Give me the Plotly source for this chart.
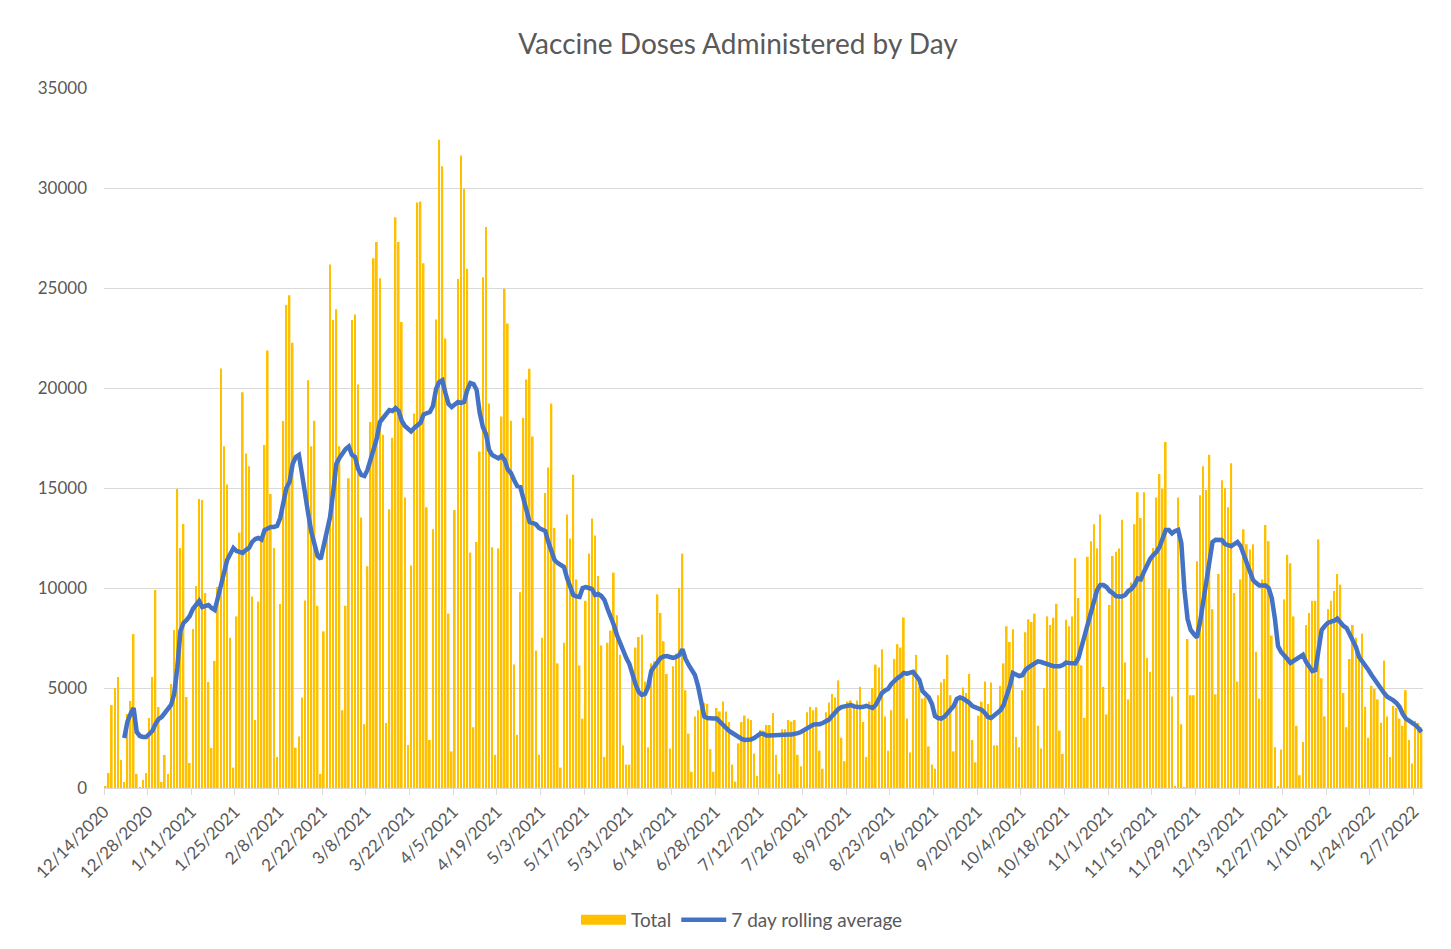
import pandas as pd
import plotly.graph_objects as go

START_DATE = "2020-12-14"

# Daily doses ("Total"), one row per week starting Monday 12/14/2020
total = [
    100, 750, 4150, 5000, 5550, 1400, 300,
    3700, 4350, 7700, 700, 50, 400, 750,
    3500, 5550, 9900, 4050, 300, 1650, 700,
    5200, 7900, 14950, 12000, 13200, 4550, 1250,
    7950, 10100, 14450, 14400, 9750, 5300, 2000,
    6350, 10050, 20980, 17090, 15170, 7510, 1020,
    8580, 12770, 19790, 16730, 16090, 9580, 3400,
    9320, 12500, 17150, 21880, 14700, 12000, 1550,
    9200, 18350, 24150, 24640, 22260, 2020, 2570,
    4530, 9380, 20390, 17090, 18360, 9110, 700,
    7830, 13150, 26170, 23400, 23940, 17090, 3890,
    9110, 15490, 23400, 23680, 20170, 13530, 3190,
    11090, 18300, 26490, 27300, 25490, 17660, 3250,
    13940, 17510, 28540, 27300, 23300, 14530, 2150,
    11130, 18730, 29280, 29320, 26240, 14040, 2400,
    12940, 23430, 32410, 31090, 22470, 8720, 1830,
    13900, 25450, 31620, 29960, 25960, 11770, 3040,
    12300, 16830, 25540, 28050, 19220, 12040, 1660,
    11980, 18580, 24960, 23220, 18360, 6170, 2660,
    9790, 18500, 20430, 20960, 17580, 6870, 1660,
    7510, 14750, 16020, 19220, 13000, 6230, 1020,
    7260, 13680, 12470, 15660, 10430, 6130, 3470,
    9360, 11720, 13470, 12620, 10600, 7130, 1550,
    7260, 7870, 10770, 8640, 6660, 2130, 1170,
    1170, 5810, 7020, 7550, 7660, 5320, 2020,
    6230, 6340, 9680, 8750, 7340, 5700, 1980,
    6090, 6720, 10000, 11720, 4890, 2720, 810,
    3580, 3890, 4680, 4260, 4210, 1940, 810,
    4000, 3830, 4320, 3830, 3300, 1170, 320,
    2230, 3300, 3620, 3470, 3400, 1720, 600,
    2900, 2870, 3150, 3150, 3750, 1660, 700,
    2940, 2940, 3400, 3320, 3400, 1660, 1090,
    2980, 3790, 4060, 3890, 4040, 1870, 960,
    3790, 4280, 4700, 4530, 5380, 2510, 1340,
    4320, 4380, 4210, 4380, 5060, 3300, 1550,
    4320, 5000, 6170, 6020, 6940, 3580, 1870,
    3890, 6450, 7190, 7020, 8530, 3470, 1770,
    5800, 6660, 5060, 4470, 4530, 2080, 1170,
    960, 4640, 5280, 5450, 6660, 4640, 1830,
    4320, 4640, 5020, 4750, 5700, 2400, 1280,
    3620, 4320, 5320, 4200, 5280, 2130, 2130,
    5110, 6230, 8090, 7300, 7940, 2550, 2040,
    4890, 7790, 8430, 8300, 8720, 3110, 1980,
    5000, 8580, 8150, 8510, 9210, 2870, 1700,
    8410, 8090, 8580, 11490, 9500, 6130, 3510,
    11560, 12340, 13190, 11980, 13680, 5060, 3680,
    9150, 11600, 11810, 11980, 13410, 6280, 4430,
    10280, 13190, 14790, 13500, 14790, 6500, 5810,
    12000, 14530, 15700, 14960, 17300, 9960, 4580,
    100, 14530, 3190, 50, 7450, 4640, 4640,
    11340, 14640, 16090, 14900, 16660, 8940, 4680,
    10700, 15390, 15000, 14040, 16240, 9750, 5320,
    10430, 12940, 12190, 11920, 12190, 6810, 4470,
    10430, 13150, 12340, 7620, 2040, 100, 1920,
    9430, 11660, 11240, 8580, 3110, 640, 2300,
    8150, 8750, 9360, 9360, 12430, 5490, 3580,
    8940, 9360, 9850, 10700, 10170, 4750, 3040,
    6450, 8150, 7510, 6660, 7720, 4060, 2510,
    5110, 4960, 4430, 3260, 6380, 3580, 1550,
    4110, 4000, 3470, 3110, 4890, 2400, 1230,
    3360, 3260, 3040,
]

# 7 day rolling average (first value on 12/20/2020)
rolling = [None] * 6 + [
    2500,
    3300, 3700, 4000, 2800, 2600, 2550, 2550,
    2700, 2850, 3200, 3450, 3550, 3750, 3950,
    4150, 4700, 6000, 7850, 8250, 8400, 8600,
    8950, 9200, 9350, 9050, 9100, 9150, 9000,
    8900, 9500, 10200, 10700, 11400, 11700, 12000,
    11850, 11800, 11750, 11900, 12000, 12300, 12450,
    12500, 12420, 12900, 13000, 13050, 13050, 13100,
    13500, 14300, 15000, 15300, 16200, 16550, 16650,
    15700, 14500, 13700, 12800, 12200, 11600, 11450,
    12100, 12900, 13550, 14800, 16200, 16500, 16750,
    16950, 17080, 16660, 16560, 15950, 15650, 15600,
    15900, 16350, 16950, 17500, 18300, 18500, 18700,
    18900, 18850, 19000, 18850, 18350, 18100, 17950,
    17830, 18000, 18150, 18260, 18680, 18750, 18800,
    19100, 19950, 20300, 20390, 19750, 19200, 19050,
    19200, 19300, 19250, 19300, 19900, 20250, 20200,
    19900, 18750, 18050, 17700, 16900, 16650, 16550,
    16480, 16600, 16400, 15920, 15750, 15400, 15100,
    15050, 14450, 13700, 13300, 13250, 13190, 13000,
    12950, 12850, 12300, 11900, 11400, 11250, 11150,
    11050, 10500, 10100, 9650, 9580, 9550, 10000,
    10050, 10000, 9950, 9650, 9700, 9600, 9400,
    8950, 8580, 8150, 7650, 7250, 6800, 6500,
    6200, 5650, 5170, 4800, 4650, 4700, 5050,
    5850, 6100, 6350, 6500, 6580, 6600, 6550,
    6500, 6550, 6650, 6940, 6450, 6150, 5900,
    5650, 5100, 4400, 3580, 3500, 3470, 3470,
    3470, 3300, 3150, 2980, 2850, 2750, 2650,
    2520, 2450, 2400, 2400, 2420, 2500, 2620,
    2720, 2700, 2620, 2620, 2620, 2620, 2620,
    2640, 2660, 2670, 2680, 2700, 2740, 2800,
    2900, 3000, 3100, 3170, 3190, 3190, 3250,
    3320, 3420, 3600, 3780, 3950, 4050, 4100,
    4130, 4150, 4080, 4040, 4040, 4060, 4110,
    4050, 4000, 4150, 4450, 4750, 4880, 4960,
    5200, 5380, 5500, 5600, 5750, 5720, 5750,
    5810, 5600, 5400, 4850, 4650, 4530, 4210,
    3600, 3500, 3470, 3560, 3750, 3960, 4100,
    4450, 4530, 4470, 4380, 4260, 4100, 4020,
    3960, 3900, 3750, 3550, 3500, 3650, 3750,
    3890, 4150, 4600, 5100, 5750, 5650, 5600,
    5640, 5900, 6030, 6120, 6220, 6330, 6300,
    6240, 6180, 6100, 6090, 6090, 6090, 6150,
    6270, 6250, 6230, 6230, 6500, 7100, 7600,
    8100, 8700, 9500, 9900, 10150, 10150, 10050,
    9850, 9750, 9600, 9580, 9580, 9650, 9850,
    9950, 10150, 10480, 10430, 10800, 11130, 11450,
    11650, 11800, 12050, 12500, 12900, 12900, 12730,
    12850, 12900, 12250, 9900, 8450, 7900, 7700,
    7520, 8300, 9300, 10300, 11200, 12300, 12410,
    12410, 12400, 12200, 12150, 12090, 12200, 12300,
    12100, 11700, 11200, 10800, 10400, 10250, 10130,
    10130, 10130, 10000, 9500, 8470, 7100, 6800,
    6650, 6450, 6250, 6350, 6480, 6550, 6660,
    6300, 6050, 5850, 5900, 7000, 7900, 8100,
    8260, 8320, 8360, 8470, 8250, 8100, 8000,
    7700, 7450, 7050, 6550, 6350, 6130, 5900,
    5650, 5400, 5180, 4960, 4750, 4560, 4490,
    4380, 4250, 4050, 3700, 3470, 3370, 3280,
    3150, 3000, 2800,
]

# X-axis tick dates (every 14 days)
tick_start = "2020-12-14"
tick_end = "2022-02-07"
axis_end = "2022-02-10"

dates = pd.date_range(START_DATE, periods=len(total), freq="D")
tick_dates = pd.date_range(tick_start, tick_end, freq="14D")
tick_labels = [f"{d.month}/{d.day}/{d.year}" for d in tick_dates]

DAY_MS = 86400000
FONT = "Lato"
GREY = "#595959"
GOLD = "#FFC000"
BLUE = "#4472C4"

fig = go.Figure()
fig.add_trace(go.Bar(
    x=dates, y=total, name="Total", showlegend=False,
    marker=dict(color=GOLD, line=dict(width=0)),
    xperiod=DAY_MS, xperiodalignment="middle",
))
# legend swatch for the bars (wide rectangle, as in the Excel legend)
fig.add_trace(go.Scatter(
    x=[None], y=[None], name="Total", mode="lines",
    line=dict(color=GOLD, width=10),
))
fig.add_trace(go.Scatter(
    x=dates, y=rolling, name="7 day rolling average", mode="lines",
    line=dict(color=BLUE, width=4.5),
    xperiod=DAY_MS, xperiodalignment="middle",
))

fig.update_layout(
    width=1451, height=949,
    margin=dict(l=104, r=28, t=88, b=161),
    paper_bgcolor="white", plot_bgcolor="white",
    font=dict(family=FONT, color=GREY),
    title=dict(
        text="Vaccine Doses Administered by Day",
        x=738 / 1451, xanchor="center", xref="container",
        y=1 - 44 / 949, yanchor="middle", yref="container",
        font=dict(size=28, color=GREY, family=FONT),
    ),
    bargap=0.45,
    showlegend=True,
    legend=dict(
        orientation="h", xref="container", yref="container",
        x=742 / 1451, xanchor="center", y=1 - 920 / 949, yanchor="middle",
        font=dict(size=19, color=GREY, family=FONT),
        itemwidth=45, bgcolor="rgba(0,0,0,0)",
    ),
)

fig.update_xaxes(
    type="date", range=[START_DATE, axis_end],
    tickvals=tick_dates, ticktext=tick_labels, tickangle=-45,
    ticks="outside", ticklen=6, tickcolor="#D9D9D9",
    showline=True, linecolor="#D9D9D9", linewidth=1,
    showgrid=False, zeroline=False,
    tickfont=dict(size=17, color=GREY, family=FONT),
)
fig.update_yaxes(
    range=[0, 35000], dtick=5000, tickformat="d",
    showgrid=True, gridcolor="#D9D9D9", gridwidth=1,
    zeroline=False, showline=False, ticks="",
    ticklabelstandoff=16,
    tickfont=dict(size=17, color=GREY, family=FONT),
)

fig.write_html(
    "out.html",
    config={"displayModeBar": False},
    post_script="document.body.style.margin='0';document.body.style.overflow='hidden';",
)
